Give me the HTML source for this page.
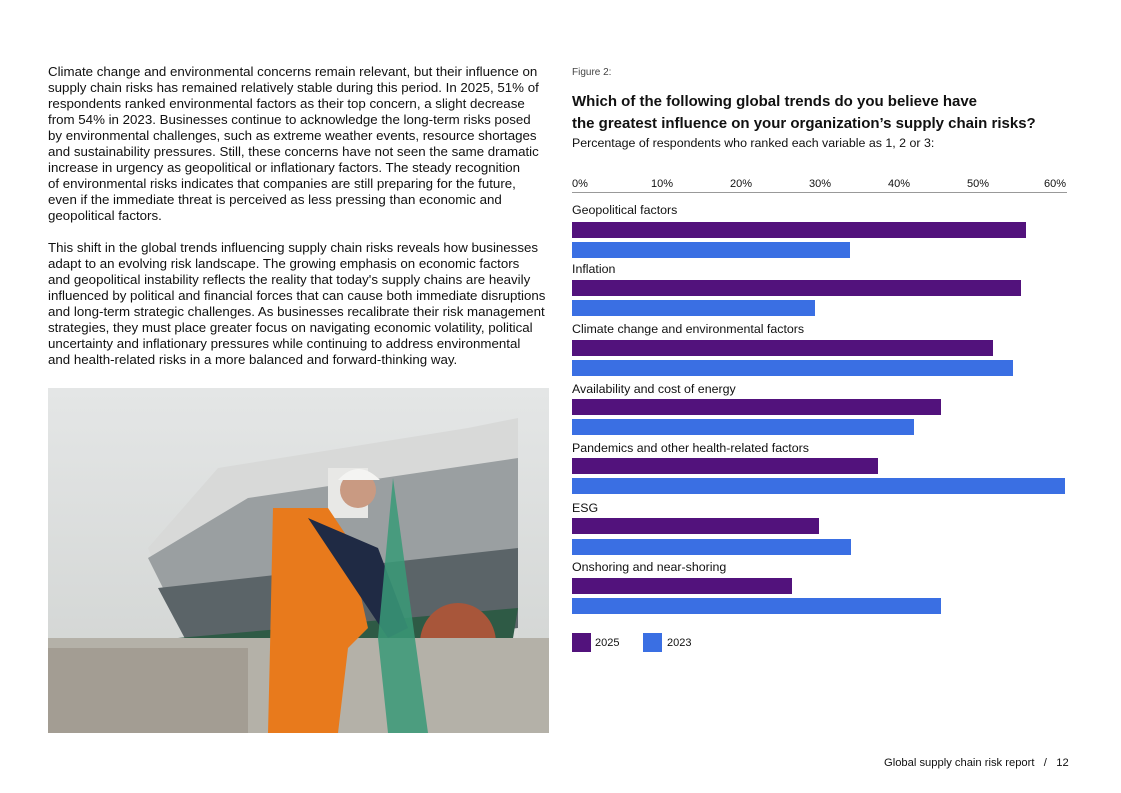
<!DOCTYPE html>
<html><head><meta charset="utf-8"><style>
*{margin:0;padding:0;box-sizing:border-box}
body{width:1121px;height:793px;background:#fff;position:relative;overflow:hidden;font-family:"Liberation Sans",sans-serif;color:#111}
.a{position:absolute;white-space:nowrap}
.p{position:absolute;left:48px;font-size:13.3px;line-height:16px;white-space:nowrap}
.b{position:absolute;left:572px;height:16px}
.c{background:#52127c}.d{background:#3a6fe3}
.l{position:absolute;left:572px;font-size:12.4px}
.t{position:absolute;top:178px;font-size:11px}
</style></head><body>
<div class="p" style="top:64px">Climate change and environmental concerns remain relevant, but their influence on<br>supply chain risks has remained relatively stable during this period. In 2025, 51% of<br>respondents ranked environmental factors as their top concern, a slight decrease<br>from 54% in 2023. Businesses continue to acknowledge the long-term risks posed<br>by environmental challenges, such as extreme weather events, resource shortages<br>and sustainability pressures. Still, these concerns have not seen the same dramatic<br>increase in urgency as geopolitical or inflationary factors. The steady recognition<br>of environmental risks indicates that companies are still preparing for the future,<br>even if the immediate threat is perceived as less pressing than economic and<br>geopolitical factors.</div>
<div class="p" style="top:240px">This shift in the global trends influencing supply chain risks reveals how businesses<br>adapt to an evolving risk landscape. The growing emphasis on economic factors<br>and geopolitical instability reflects the reality that today's supply chains are heavily<br>influenced by political and financial forces that can cause both immediate disruptions<br>and long-term strategic challenges. As businesses recalibrate their risk management<br>strategies, they must place greater focus on navigating economic volatility, political<br>uncertainty and inflationary pressures while continuing to address environmental<br>and health-related risks in a more balanced and forward-thinking way.</div>
<svg class="a" style="left:48px;top:388px" width="501" height="345">
<defs><linearGradient id="s" x1="0" y1="0" x2="0" y2="1"><stop offset="0" stop-color="#e4e6e6"/><stop offset="1" stop-color="#cfd2d0"/></linearGradient></defs>
<rect width="501" height="345" fill="url(#s)"/>
<path d="M100 160 L170 80 L420 40 L470 30 L470 260 L140 260 Z" fill="#d8d9d8"/>
<path d="M100 170 L200 110 L470 70 L470 230 L150 270 Z" fill="#9a9fa1"/>
<path d="M110 200 L470 160 L470 240 L150 275 Z" fill="#5b6468"/>
<path d="M130 250 L470 220 L460 280 L140 290 Z" fill="#2e5a45"/>
<ellipse cx="410" cy="255" rx="38" ry="40" fill="#a8563a"/>
<rect x="0" y="250" width="501" height="95" fill="#b4b1a8"/>
<rect x="0" y="260" width="200" height="85" fill="#a39d93"/>
<rect x="280" y="80" width="40" height="50" fill="#e8e8e6"/>
<path d="M225 120 L280 120 L300 150 L320 240 L300 260 L290 345 L220 345 L222 260 Z" fill="#e87a1c"/>
<path d="M260 130 L330 160 L360 240 L340 250 L300 190 Z" fill="#1f2a44"/>
<circle cx="310" cy="102" r="18" fill="#c99a82"/>
<path d="M290 92 Q310 70 332 92 Z" fill="#f4f4f2"/>
<path d="M345 90 L360 200 L380 345 L340 345 L330 250 Z" fill="#3a9a78" opacity=".85"/>
</svg>
<div class="a" style="left:572px;top:67px;font-size:10px;color:#444">Figure 2:</div>
<div class="a" style="left:572px;top:91px;font-size:15px;font-weight:bold;line-height:22px">Which of the following global trends do you believe have<br>the greatest influence on your organization’s supply chain risks?</div>
<div class="a" style="left:572px;top:136px;font-size:12.4px">Percentage of respondents who ranked each variable as 1, 2 or 3:</div>
<div class="t" style="left:572px">0%</div><div class="t" style="left:651px">10%</div><div class="t" style="left:730px">20%</div><div class="t" style="left:809px">30%</div><div class="t" style="left:888px">40%</div><div class="t" style="left:967px">50%</div><div class="t" style="left:1044px">60%</div>
<div class="a" style="left:572px;top:192px;width:495px;height:1px;background:#999"></div>

<div class="l" style="top:203px">Geopolitical factors</div>
<div class="b c" style="top:222px;width:454px"></div><div class="b d" style="top:242px;width:278px"></div>
<div class="l" style="top:262px">Inflation</div>
<div class="b c" style="top:280px;width:449px"></div><div class="b d" style="top:300px;width:243px"></div>
<div class="l" style="top:322px">Climate change and environmental factors</div>
<div class="b c" style="top:340px;width:421px"></div><div class="b d" style="top:360px;width:441px"></div>
<div class="l" style="top:382px">Availability and cost of energy</div>
<div class="b c" style="top:399px;width:369px"></div><div class="b d" style="top:419px;width:342px"></div>
<div class="l" style="top:441px">Pandemics and other health-related factors</div>
<div class="b c" style="top:458px;width:306px"></div><div class="b d" style="top:478px;width:493px"></div>
<div class="l" style="top:501px">ESG</div>
<div class="b c" style="top:518px;width:247px"></div><div class="b d" style="top:539px;width:279px"></div>
<div class="l" style="top:560px">Onshoring and near-shoring</div>
<div class="b c" style="top:578px;width:220px"></div><div class="b d" style="top:598px;width:369px"></div>

<div class="a c" style="left:572px;top:633px;width:19px;height:19px"></div>
<div class="a" style="left:595px;top:637px;font-size:11px">2025</div>
<div class="a d" style="left:643px;top:633px;width:19px;height:19px"></div>
<div class="a" style="left:667px;top:637px;font-size:11px">2023</div>
<div class="a" style="left:884px;top:757px;font-size:11.2px">Global supply chain risk report &nbsp; / &nbsp; 12</div>
</body></html>
